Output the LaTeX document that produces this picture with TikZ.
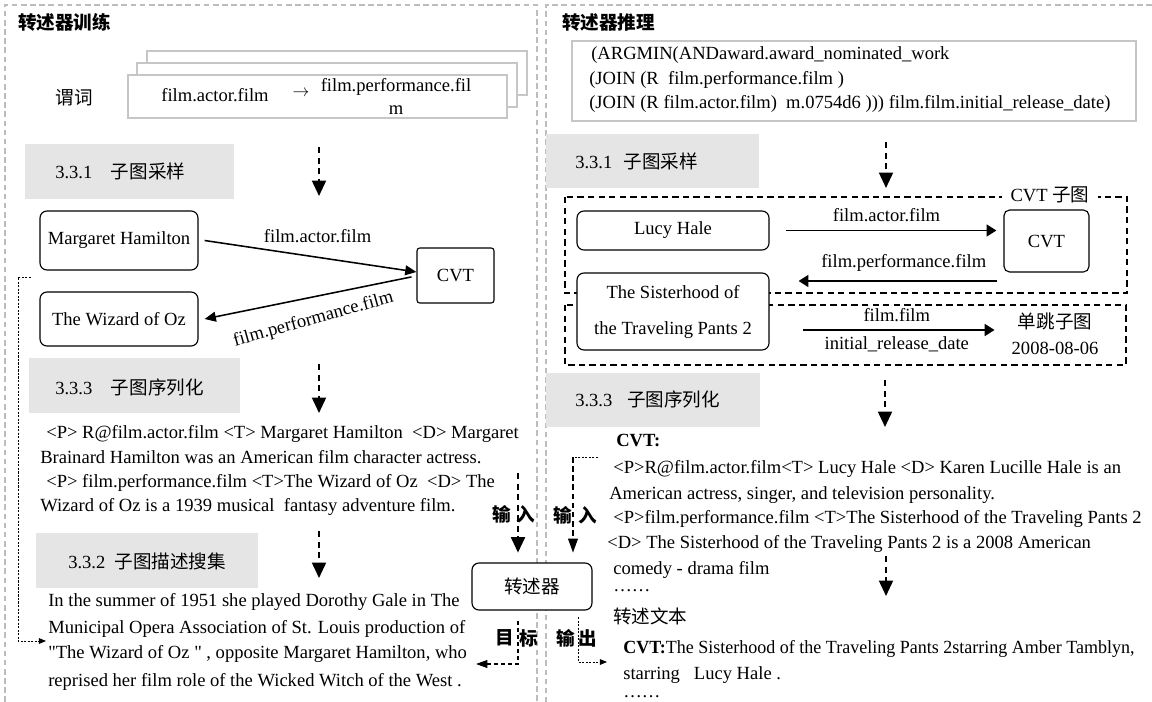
\documentclass[tikz,border=0pt]{standalone}
\usepackage{fontspec}
\setmainfont{Liberation Serif}
\newfontfamily\cjk{Noto Sans CJK SC}
\usetikzlibrary{arrows.meta}

\definecolor{panelgray}{HTML}{BDBDBD}
\definecolor{secgray}{HTML}{E5E5E5}
\definecolor{stackgray}{HTML}{C6C6C6}
\newcommand\picfs{\fontsize{13.2}{15.8}\selectfont}

\begin{document}
\begin{tikzpicture}[x=0.025cm, y=-0.025cm, font=\picfs,
  panel/.style={panelgray, line width=1.6pt, dash pattern=on 4pt off 2.5pt},
  secbox/.style={fill=secgray},
  stackbox/.style={draw=stackgray, fill=white, line width=1.3pt},
  ent/.style={draw, rounded corners=5pt, line width=0.8pt, fill=white, inner sep=0pt, align=center},
  cvtbox/.style={draw, rounded corners=2pt, line width=0.8pt, fill=white, inner sep=0pt},
  txt/.style={anchor=base west, inner sep=0pt},
  tag/.style={font=\picfs\cjk\bfseries, inner sep=0pt},
  flow/.style={line width=1.3pt, dash pattern=on 4.5pt off 3pt, -{Triangle[length=11pt,width=10pt]}},
  flowthin/.style={line width=1pt, dash pattern=on 4pt off 2.5pt, -{Triangle[length=10pt,width=7pt]}},
  tgtline/.style={line width=0.9pt, dash pattern=on 3pt off 2pt, -{Triangle[length=8pt,width=5.5pt]}},
  fb/.style={line width=0.6pt, dash pattern=on 1.5pt off 1pt, -{Triangle[length=5pt,width=4pt]}},
  dotline/.style={line width=0.6pt, dash pattern=on 1.5pt off 1pt},
  rel/.style={line width=1.1pt, -{Triangle[length=8pt,width=7pt]}},
  relback/.style={line width=1.1pt, {Triangle[length=8pt,width=7pt]}-},
  relb/.style={line width=1.3pt, -{Triangle[length=7pt,width=8.5pt]}},
  subg/.style={line width=0.9pt, dash pattern=on 4.5pt off 3pt}]
\useasboundingbox (0,0) rectangle (1152,702);

% Panels
\draw[panel] (5,702) -- (5,5) -- (537,5) -- (537,702);
\draw[panel] (1152,5) -- (546,5) -- (546,702);

%%% Left: training
\node[txt, font=\picfs\cjk\bfseries] (ttrain) at (18,30) {转述器训练};

% Predicates
\draw[stackbox] (147,51) rectangle (527,95);
\draw[stackbox] (137,63) rectangle (517,107);
\node[stackbox, minimum width=9.475cm, minimum height=1.075cm] (pred) at (317.5,96.5) {};
\node (predlbl) at (74,98) {\cjk 谓词};
\node (pa) at (215,95) {film.actor.film};
\node (parr) at (301,93) {$\rightarrow$};
\node[align=center, font=\fontsize{13.2}{16.4}\selectfont] (pb) at (396,96) {film.performance.fil\\m};

% 3.3.1
\fill[secbox] (25,144) rectangle (234,199);
\node[txt] (s1) at (55,179) {3.3.1\quad{\cjk 子图采样}};
\coordinate (f1a) at (319,147);
\coordinate (f1b) at (319,196);
\draw[flow] (f1a) -- (f1b);

% Subgraph
\node[ent, minimum width=3.95cm, minimum height=1.475cm] (mh) at (119,240.5) {Margaret Hamilton};
\node[cvtbox, minimum width=1.925cm, minimum height=1.375cm] (cvta) at (455.5,275.5) {CVT};
\node[ent, minimum width=3.95cm, minimum height=1.35cm] (oz) at (119,319) {The Wizard of Oz};
\draw[rel] ([xshift=4.3pt]mh.east) -- ([yshift=2.5pt]cvta.west)
  node[midway, above=6pt, xshift=5pt] (lfa) {film.actor.film};
\draw[relback] ([xshift=4.3pt]oz.east) -- ([xshift=-3.5pt,yshift=-1pt]cvta.west)
  node[midway, below=6pt, sloped, rotate=4] (lfp) {film.performance.film};

% Feedback
\coordinate (fbs) at (31,277);
\coordinate (fbe) at (46,641);
\draw[fb] (fbs) -- ++(-13,0) |- (fbe);

% 3.3.3
\fill[secbox] (29,358) rectangle (240,413);
\node[txt] (s3) at (55,394) {3.3.3\quad{\cjk 子图序列化}};
\coordinate (f2a) at (319,364);
\coordinate (f2b) at (319,413);
\draw[flow] (f2a) -- (f2b);

\node[txt] (ser1) at (46,438) {<P> R@film.actor.film <T> Margaret Hamilton\ \ <D> Margaret};
\node[txt] (ser2) at (40,463) {Brainard Hamilton was an American film character actress.};
\node[txt] (ser3) at (46,487) {<P> film.performance.film <T>The Wizard of Oz\ \ <D> The};
\node[txt] (ser4) at (40,511) {Wizard of Oz is a 1939 musical\ \ fantasy adventure film.};

% 3.3.2
\fill[secbox] (36,533) rectangle (258,588);
\node[txt] (s2) at (68,568) {3.3.2\enspace{\cjk 子图描述搜集}};
\coordinate (f3a) at (319,531);
\coordinate (f3b) at (319,578);
\draw[flow] (f3a) -- (f3b);

\node[txt] (des1) at (48,606) {In the summer of 1951 she played Dorothy Gale in The};
\node[txt] (des2) at (48,633) {Municipal Opera Association of St. Louis production of};
\node[txt] (des3) at (48,658) {\textquotedbl The Wizard of Oz \textquotedbl{} , opposite Margaret Hamilton, who};
\node[txt] (des4) at (48,686) {reprised her film role of the Wicked Witch of the West .};

% Transcriber
\node[ent, minimum width=3cm, minimum height=1.175cm] (trans) at (532,586.5) {\cjk 转述器};
\coordinate (inl) at (518,473);
\draw[flow, shorten >=7pt] (inl) -- (inl |- trans.north);
\node[tag] (inl1) at (502,514) {输};
\node[tag] (inl2) at (526,514) {入};
\coordinate (tgs) at (518,621);
\coordinate (tge) at (476,664);
\draw[tgtline] (tgs) |- (tge);
\node[tag] (tg1) at (505,638) {目};
\node[tag] (tg2) at (529,638) {标};

\coordinate (inr) at (598,457);
\draw[dotline] (inr) -- ++(-25,0) coordinate (inrc);
\draw[flowthin, shorten >=7pt] (inrc) -- (inrc |- trans.north);
\node[tag] (inr1) at (563,515) {输};
\node[tag] (inr2) at (588,515) {入};
\coordinate (outs) at (578,617);
\coordinate (oute) at (607,662);
\draw[fb] (outs) |- (oute);
\node[tag] (out1) at (566,638) {输};
\node[tag] (out2) at (588,638) {出};

%%% Right: inference
\node[txt, font=\picfs\cjk\bfseries] (tinf) at (562,30) {转述器推理};

% Query
\node[stackbox, minimum width=14.1cm, minimum height=2cm] (query) at (854,81) {};
\node[txt] (q1) at (591,60) {(ARGMIN(ANDaward.award\_nominated\_work};
\node[txt] (q2) at (589,85) {(JOIN (R\ \ film.performance.film )};
\node[txt] (q3) at (589,109) {(JOIN (R film.actor.film)\ \ m.0754d6 ))) film.film.initial\_release\_date)};

% 3.3.1
\fill[secbox] (546,134) rectangle (759,188);
\node[txt] (r1s) at (575,169) {3.3.1\hspace{0.6em}{\cjk 子图采样}};
\coordinate (g1a) at (886,142);
\coordinate (g1b) at (886,188);
\draw[flow] (g1a) -- (g1b);

% Subgraphs
\draw[subg] (565,197) rectangle (1127,293);
\draw[subg] (565,305) rectangle (1126,365);
\node[fill=white, inner xsep=6pt, inner ysep=0pt] (cvtlbl) at (1050,195) {CVT {\cjk 子图}};

\node[ent, minimum width=4.8cm, minimum height=0.975cm] (lucy) at (673,230.5) {Lucy Hale};
\node[cvtbox, rounded corners=4pt, minimum width=2.125cm, minimum height=1.55cm] (cvtb) at (1046.5,241) {CVT};
\node[ent, minimum width=4.8cm, minimum height=1.925cm, font=\fontsize{13.2}{25.6}\selectfont] (sis) at (673,311.5) {The Sisterhood of\\the Traveling Pants 2};
\node[align=center, inner sep=0pt, font=\fontsize{13.2}{18.5}\selectfont] (hop) at (1055,334) {{\cjk 单跳子图}\\2008-08-06};

\draw[relb, shorten <=11.4pt, shorten >=5pt] (lucy.east) -- (lucy.east -| cvtb.west)
  node[midway, above=2pt] (rfa) {film.actor.film};
\coordinate (r2s) at (997,281);
\draw[relb, shorten >=20.6pt] (r2s) -- (r2s -| sis.east)
  node[pos=0.41, above=2.5pt] (rfp) {film.performance.film};
\coordinate (r3s) at (803,330);
\draw[relb, shorten >=12pt] (r3s) -- (r3s -| hop.west)
  node[pos=0.45, above=2pt] (rff) {film.film}
  node[pos=0.45, below=0.5pt] (rfd) {initial\_release\_date};

% 3.3.3
\fill[secbox] (546,373) rectangle (760,427);
\node[txt] (r3sec) at (575,406) {3.3.3\hspace{0.8em}{\cjk 子图序列化}};
\coordinate (g2a) at (885,380);
\coordinate (g2b) at (885,427);
\draw[flow] (g2a) -- (g2b);

\node[txt] (cvth) at (616,446) {\textbf{CVT:}};
\node[txt] (rs1) at (613,473) {<P>R@film.actor.film<T> Lucy Hale <D> Karen Lucille Hale is an};
\node[txt] (rs2) at (609,499) {American actress, singer, and television personality.};
\node[txt] (rs3) at (613,523) {<P>film.performance.film <T>The Sisterhood of the Traveling Pants 2};
\node[txt] (rs4) at (607,548) {<D> The Sisterhood of the Traveling Pants 2 is a 2008 American};
\node[txt] (rs5) at (613,574) {comedy - drama film};
\node[txt] (rs6) at (613,591) {……};
\node[txt] (txthead) at (613,623) {\cjk 转述文本};
\coordinate (g3a) at (886,556);
\coordinate (g3b) at (886,596);
\draw[flow] (g3a) -- (g3b);

% Output
\node[txt] (o1) at (623,653) {\scalebox{0.97}[1]{\textbf{CVT:}The Sisterhood of the Traveling Pants 2starring Amber Tamblyn,}};
\node[txt] (o2) at (623,679) {starring\ \ \ Lucy Hale .};
\node[txt] (o3) at (623,697) {……};
\end{tikzpicture}
\end{document}
